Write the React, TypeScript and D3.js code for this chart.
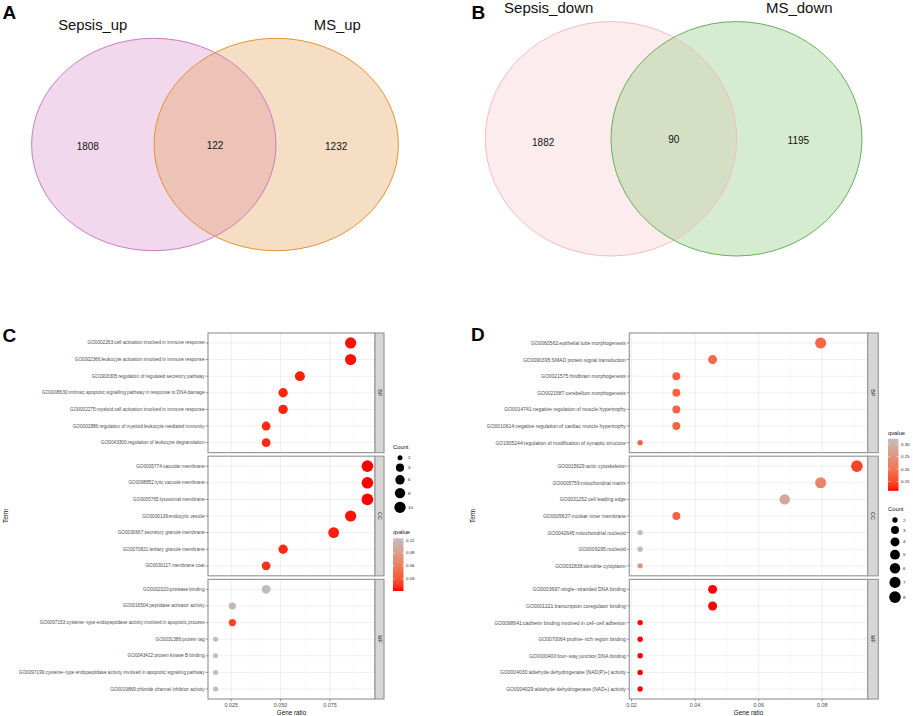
import * as d3 from 'd3'

const FONT = '"Liberation Sans", Arial, Helvetica, sans-serif'

// ---- Venn data ----
const vennUpSets = ['Sepsis_up', 'MS_up']
const vennUpCounts = [1808, 122, 1232]
const vennDownSets = ['Sepsis_down', 'MS_down']
const vennDownCounts = [1882, 90, 1195]

// ---- GO enrichment, up-regulated overlap (panel C) ----
const ontologies = ['BP', 'CC', 'MF']

const termsC = [
  'GO0002263:cell activation involved in immune response',
  'GO0002366:leukocyte activation involved in immune response',
  'GO1903305:regulation of regulated secretory pathway',
  'GO0008630:intrinsic apoptotic signalling pathway in response to DNA damage',
  'GO0002275:myeloid cell activation involved in immune response',
  'GO0002886:regulation of myeloid leukocyte mediated immunity',
  'GO0043300:regulation of leukocyte degranulation',
  'GO0005774:vacuolar membrane',
  'GO0098852:lytic vacuole membrane',
  'GO0005765:lysosomal membrane',
  'GO0030139:endocytic vesicle',
  'GO0030667:secretory granule membrane',
  'GO0070821:tertiary granule membrane',
  'GO0030117:membrane coat',
  'GO0002020:protease binding',
  'GO0016504:peptidase activator activity',
  'GO0097153:cysteine\u2212type endopeptidase activity involved in apoptotic process',
  'GO0031386:protein tag',
  'GO0043422:protein kinase B binding',
  'GO0097199:cysteine\u2212type endopeptidase activity involved in apoptotic signaling pathway',
  'GO0019869:chloride channel inhibitor activity',
]
const groupC = ['BP', 'BP', 'BP', 'BP', 'BP', 'BP', 'BP', 'CC', 'CC', 'CC', 'CC', 'CC', 'CC', 'CC', 'MF', 'MF', 'MF', 'MF', 'MF', 'MF', 'MF']
const ratioC = [0.0855, 0.0855, 0.0598, 0.0513, 0.0513, 0.0427, 0.0427, 0.094, 0.094, 0.094, 0.0855, 0.0769, 0.0513, 0.0427, 0.0427, 0.0256, 0.0256, 0.0171, 0.0171, 0.0171, 0.0171]
const countC = [10, 10, 7, 6, 6, 5, 5, 11, 11, 11, 10, 9, 6, 5, 5, 3, 3, 2, 2, 2, 2]
const qvalueC = [0.004, 0.004, 0.006, 0.008, 0.008, 0.01, 0.01, 0.002, 0.002, 0.002, 0.004, 0.006, 0.01, 0.012, 0.124, 0.118, 0.02, 0.124, 0.124, 0.124, 0.124]
const xTicksC = [0.025, 0.05, 0.075]
const qTicksC = [0.03, 0.06, 0.09, 0.12]
const countBreaksC = [2, 4, 6, 8, 10]

// ---- GO enrichment, down-regulated overlap (panel D) ----
const termsD = [
  'GO0060562:epithelial tube morphogenesis',
  'GO0090395:SMAD protein signal transduction',
  'GO0021575:hindbrain morphogenesis',
  'GO0021587:cerebellum morphogenesis',
  'GO0014741:negative regulation of muscle hypertrophy',
  'GO0010614:negative regulation of cardiac muscle hypertrophy',
  'GO1905244:regulation of modification of synaptic structure',
  'GO0015629:actin cytoskeleton',
  'GO0005759:mitochondrial matrix',
  'GO0031252:cell leading edge',
  'GO0005637:nuclear inner membrane',
  'GO0042645:mitochondrial nucleoid',
  'GO0009295:nucleoid',
  'GO0032838:dendrite cytoplasm',
  'GO0003697:single\u2212stranded DNA binding',
  'GO0001221:transcription coregulator binding',
  'GO0098641:cadherin binding involved in cell\u2212cell adhesion',
  'GO0070064:proline\u2212rich region binding',
  'GO0000400:four\u2212way junction DNA binding',
  'GO0004030:aldehyde dehydrogenase [NAD(P)+] activity',
  'GO0004029:aldehyde dehydrogenase (NAD+) activity',
]
const groupD = groupC
const ratioD = [0.0795, 0.0455, 0.0341, 0.0341, 0.0341, 0.0341, 0.0227, 0.0909, 0.0795, 0.0682, 0.0341, 0.0227, 0.0227, 0.0227, 0.0455, 0.0455, 0.0227, 0.0227, 0.0227, 0.0227, 0.0227]
const countD = [7, 4, 3, 3, 3, 3, 2, 8, 7, 6, 3, 2, 2, 2, 4, 4, 2, 2, 2, 2, 2]
const qvalueD = [0.185, 0.185, 0.178, 0.178, 0.178, 0.178, 0.182, 0.145, 0.225, 0.28, 0.175, 0.321, 0.321, 0.25, 0.113, 0.113, 0.113, 0.113, 0.113, 0.113, 0.113]
const xTicksD = [0.02, 0.04, 0.06, 0.08]
const qTicksD = [0.15, 0.2, 0.25, 0.3]
const countBreaksD = [2, 3, 4, 5, 6, 7, 8]

const PANEL_TOPS = [333, 456.2, 579.4]
const PANEL_H = 119.6
const BORDER = '#9a9a9a'

type Ell = { cx: number; cy: number; rx: number; ry: number }

function Venn({ sets, counts, left, right, fills, strokes, titleY, titleX, titleSize, numY }: {
  sets: string[]; counts: number[]; left: Ell; right: Ell; fills: string[]; strokes: string[]
  titleY: number; titleX: number[]; titleSize: number; numY: number[]
}) {
  const numX = [
    (left.cx - left.rx + right.cx - right.rx) / 2 - 5,
    (right.cx - right.rx + left.cx + left.rx) / 2,
    (left.cx + left.rx + right.cx + right.rx) / 2 - 1,
  ]
  return (
    <g fontFamily={FONT}>
      <ellipse cx={left.cx} cy={left.cy} rx={left.rx} ry={left.ry} fill={fills[0]} fillOpacity={0.3} stroke="none" />
      <ellipse cx={right.cx} cy={right.cy} rx={right.rx} ry={right.ry} fill={fills[1]} fillOpacity={0.3} stroke="none" />
      <ellipse cx={left.cx} cy={left.cy} rx={left.rx} ry={left.ry} fill="none" stroke={strokes[0]} strokeWidth={1} />
      <ellipse cx={right.cx} cy={right.cy} rx={right.rx} ry={right.ry} fill="none" stroke={strokes[1]} strokeWidth={1} />
      {sets.map((s, i) => (
        <text key={s} x={titleX[i]} y={titleY} fontSize={titleSize} textAnchor="middle" fill="#111">{s}</text>
      ))}
      {counts.map((c, i) => (
        <text key={i} x={numX[i]} y={numY[i]} fontSize={10} textAnchor="middle" fill="#111">{c}</text>
      ))}
    </g>
  )
}

function GoDotPlot(props: {
  left: number; right: number; stripW: number; terms: string[]; groups: string[]
  ratio: number[]; count: number[]; qvalue: number[]; labelSize: number
  xTicks: number[]; xFmt: (v: number) => string; qTicks: number[]; qFmt: (v: number) => string
  rRange: [number, number]; countBreaks: number[]; termX: number; legendX: number
  countTop: number; qTop: number; barH: number; gradId: string
}) {
  const { left, right, stripW, terms, groups, ratio, count, qvalue, labelSize, xTicks, xFmt, qTicks, qFmt,
    rRange, countBreaks, termX, legendX, countTop, qTop, barH, gradId } = props
  const [lo, hi] = d3.extent(ratio) as [number, number]
  const pad = (hi - lo) * 0.05
  const x = d3.scaleLinear().domain([lo - pad, hi + pad]).range([left, right])
  const qExt = d3.extent(qvalue) as [number, number]
  const color = d3.scaleLinear<string>().domain(qExt).range(['#ff0000', '#bebebe']).interpolate(d3.interpolateLab)
  const [cMin, cMax] = d3.extent(count) as [number, number]
  const rad = (c: number) => rRange[0] + (rRange[1] - rRange[0]) * Math.sqrt(Math.max(0, (c - cMin) / (cMax - cMin)))
  const step = xTicks[1] - xTicks[0]
  const [d0, d1] = x.domain()
  const minors = [xTicks[0] - step / 2, ...xTicks.map((t) => t + step / 2)].filter((v) => v > d0 && v < d1)
  const bottom = PANEL_TOPS[2] + PANEL_H

  // count legend key positions
  const keyY: number[] = []
  countBreaks.forEach((b, i) => {
    if (i === 0) keyY.push(countTop)
    else keyY.push(keyY[i - 1] + rad(countBreaks[i - 1]) + rad(b) + 3.4)
  })
  const barTop = qTop + 4
  const qy = d3.scaleLinear().domain(qExt).range([barTop + barH, barTop])
  const stops = d3.range(0, 11).map((i) => i / 10)

  return (
    <g fontFamily={FONT}>
      <defs>
        <linearGradient id={gradId} x1="0" y1="1" x2="0" y2="0">
          {stops.map((t) => (
            <stop key={t} offset={t} stopColor={color(qExt[0] + t * (qExt[1] - qExt[0]))} />
          ))}
        </linearGradient>
      </defs>
      {ontologies.map((g, gi) => {
        const top = PANEL_TOPS[gi]
        const idx = terms.map((_, i) => i).filter((i) => groups[i] === g)
        const y = d3.scalePoint<string>().domain(idx.map((i) => terms[i])).range([top, top + PANEL_H]).padding(0.6)
        return (
          <g key={g}>
            <rect x={left} y={top} width={right - left} height={PANEL_H} fill="#fff" />
            {minors.map((v) => (
              <line key={'mi' + v} x1={x(v)} x2={x(v)} y1={top} y2={top + PANEL_H} stroke="#f2f2f2" strokeWidth={0.5} />
            ))}
            {xTicks.map((v) => (
              <line key={'ma' + v} x1={x(v)} x2={x(v)} y1={top} y2={top + PANEL_H} stroke="#ebebeb" strokeWidth={0.8} />
            ))}
            {idx.map((i) => (
              <line key={'h' + i} x1={left} x2={right} y1={y(terms[i])} y2={y(terms[i])} stroke="#ebebeb" strokeWidth={0.8} />
            ))}
            {idx.map((i) => (
              <circle key={'p' + i} cx={x(ratio[i])} cy={y(terms[i])} r={rad(count[i])} fill={color(qvalue[i])} />
            ))}
            <rect x={left} y={top} width={right - left} height={PANEL_H} fill="none" stroke={BORDER} strokeWidth={1.2} />
            <rect x={right} y={top} width={stripW} height={PANEL_H} fill="#d6d6d6" stroke={BORDER} strokeWidth={1.2} />
            <text transform={`translate(${right + stripW / 2},${top + PANEL_H / 2}) rotate(90)`} fontSize={5.4}
              textAnchor="middle" dominantBaseline="central" fill="#333">{g}</text>
            {idx.map((i) => (
              <g key={'t' + i}>
                <line x1={left - 2.5} x2={left} y1={y(terms[i])} y2={y(terms[i])} stroke="#444" strokeWidth={0.5} />
                <text x={left - 3.5} y={y(terms[i])} fontSize={labelSize} textAnchor="end" dominantBaseline="central" fill="#4d4d4d">{terms[i]}</text>
              </g>
            ))}
          </g>
        )
      })}
      {xTicks.map((v) => (
        <g key={'xt' + v}>
          <line x1={x(v)} x2={x(v)} y1={bottom} y2={bottom + 2.5} stroke="#444" strokeWidth={0.5} />
          <text x={x(v)} y={bottom + 8} fontSize={5.4} textAnchor="middle" fill="#4d4d4d">{xFmt(v)}</text>
        </g>
      ))}
      <text x={(left + right) / 2} y={bottom + 15.5} fontSize={6.3} textAnchor="middle" fill="#111">Gene ratio</text>
      <text transform={`translate(${termX},${(PANEL_TOPS[0] + bottom) / 2}) rotate(-90)`} fontSize={6.3}
        textAnchor="middle" dominantBaseline="central" fill="#111">Term</text>

      {/* Count legend */}
      <text x={legendX} y={countTop - 9} fontSize={5.8} fill="#111">Count</text>
      {countBreaks.map((b, i) => (
        <g key={'c' + b}>
          <circle cx={legendX + 7} cy={keyY[i]} r={rad(b)} fill="#000" />
          <text x={legendX + 15} y={keyY[i]} fontSize={4.4} dominantBaseline="central" fill="#222">{b}</text>
        </g>
      ))}

      {/* qvalue legend */}
      <text x={legendX} y={qTop} fontSize={5.8} fill="#111">qvalue</text>
      <rect x={legendX} y={barTop} width={10.5} height={barH} fill={`url(#${gradId})`} />
      {qTicks.map((t) => (
        <g key={'q' + t}>
          <line x1={legendX} x2={legendX + 2} y1={qy(t)} y2={qy(t)} stroke="#fff" strokeWidth={0.5} />
          <line x1={legendX + 8.5} x2={legendX + 10.5} y1={qy(t)} y2={qy(t)} stroke="#fff" strokeWidth={0.5} />
          <text x={legendX + 13} y={qy(t)} fontSize={4.4} dominantBaseline="central" fill="#222">{qFmt(t)}</text>
        </g>
      ))}
    </g>
  )
}

export default function App() {
  return (
    <svg width={913} height={716} style={{ position: 'absolute', left: 0, top: 0, background: '#fff' }}>
      <rect width={913} height={716} fill="#fff" />
      <Venn
        sets={vennUpSets}
        counts={vennUpCounts}
        left={{ cx: 153.8, cy: 144.5, rx: 122.2, ry: 106.2 }}
        right={{ cx: 276.2, cy: 144.5, rx: 122.2, ry: 106.2 }}
        fills={['#d47dc0', '#de9137']}
        strokes={['#c97ec2', '#e4922f']}
        titleY={29.5}
        titleX={[92.7, 337.3]}
        titleSize={14.8}
        numY={[150.3, 148.6, 149.6]}
      />
      <Venn
        sets={vennDownSets}
        counts={vennDownCounts}
        left={{ cx: 611, cy: 138.8, rx: 125.7, ry: 117.2 }}
        right={{ cx: 736.5, cy: 138.8, rx: 125.5, ry: 117.2 }}
        fills={['#f5c0c6', '#76c062']}
        strokes={['#f4bcc3', '#6aae5c']}
        titleY={12.7}
        titleX={[548.7, 799.3]}
        titleSize={15}
        numY={[146, 143, 143.8]}
      />
      <GoDotPlot
        left={208} right={375} stripW={9} terms={termsC} groups={groupC}
        ratio={ratioC} count={countC} qvalue={qvalueC} labelSize={4.7}
        xTicks={xTicksC} xFmt={d3.format('.3f')} qTicks={qTicksC} qFmt={d3.format('.2f')}
        rRange={[2.5, 5.8]} countBreaks={countBreaksC} termX={5.5} legendX={393}
        countTop={457.7} qTop={534.3} barH={52.7} gradId="gradC"
      />
      <GoDotPlot
        left={629.3} right={867.7} stripW={10.6} terms={termsD} groups={groupD}
        ratio={ratioD} count={countD} qvalue={qvalueD} labelSize={5}
        xTicks={xTicksD} xFmt={d3.format('.2f')} qTicks={qTicksD} qFmt={d3.format('.2f')}
        rRange={[2.7, 5.8]} countBreaks={countBreaksD} termX={472.7} legendX={888}
        countTop={520} qTop={434.8} barH={52} gradId="gradD"
      />
      <g fontFamily={FONT} fontWeight="bold" fontSize={19} fill="#000">
        <text x={2.5} y={18.5}>A</text>
        <text x={471.5} y={18.5}>B</text>
        <text x={2.5} y={342}>C</text>
        <text x={471} y={341}>D</text>
      </g>
    </svg>
  )
}
